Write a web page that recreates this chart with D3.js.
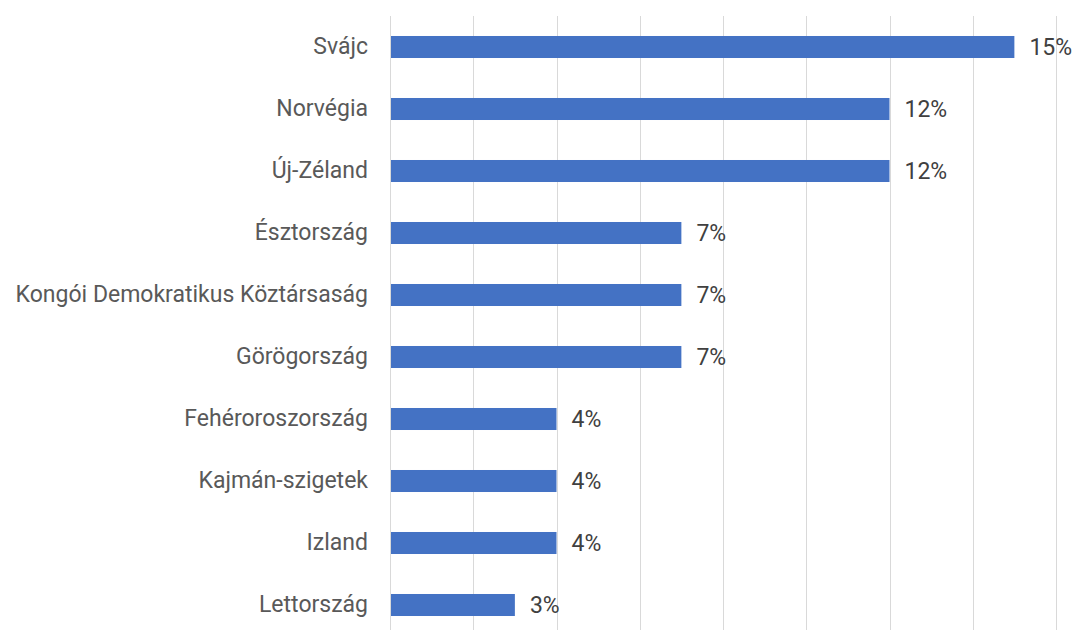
<!DOCTYPE html>
<html lang="hu">
    <head>
        <meta charset="utf-8">
        <title>Bar chart</title>
        <script src="https://d3js.org/d3.v7.min.js"></script>
        <style type="text/css">
          body { margin: 0; background: #fff; }
          svg { width: 1075px; height: 630px; display: block; }
          .cat { font-family: Roboto, sans-serif; font-size: 23px; fill: #595959; }
          .val { font-family: Roboto, sans-serif; font-size: 23px; fill: #404040; }
        </style>
    </head>
    <body>
        <svg></svg>
        <script type="text/javascript">

        // data
        const countries = ["Svájc", "Norvégia", "Új-Zéland", "Észtország",
                           "Kongói Demokratikus Köztársaság", "Görögország",
                           "Fehéroroszország", "Kajmán-szigetek", "Izland", "Lettország"];
        const shares = [15, 12, 12, 7, 7, 7, 4, 4, 4, 3];
        const gridTicks = [0, 2, 4, 6, 8, 10, 12, 14, 16];

        const svg = d3.select("svg");

        const xScale = d3.scaleLinear()
                         .domain([0, 16])
                         .range([390, 1056]);

        const yScale = d3.scaleBand()
                         .domain(countries)
                         .range([16, 636])
                         .paddingInner(0.645)
                         .paddingOuter(0.3225);

        //gridlines
        svg.append("g")
           .selectAll("line")
           .data(gridTicks)
           .join("line")
           .attr("x1", d => Math.round(xScale(d)) + 0.5)
           .attr("x2", d => Math.round(xScale(d)) + 0.5)
           .attr("y1", 16)
           .attr("y2", 630)
           .attr("stroke", "#d9d9d9")
           .attr("stroke-width", 1);

        //bars
        svg.append("g")
           .selectAll("rect")
           .data(countries)
           .join("rect")
           .attr("x", xScale(0) + 1)
           .attr("y", d => yScale(d))
           .attr("width", (d, i) => xScale(shares[i]) - xScale(0) - 1)
           .attr("height", yScale.bandwidth())
           .attr("fill", "#4472c4");

        //category labels
        svg.append("g")
           .selectAll("text")
           .data(countries)
           .join("text")
           .attr("class", "cat")
           .attr("x", xScale(0) - 22)
           .attr("y", d => yScale(d) + yScale.bandwidth() / 2)
           .attr("dy", "0.3em")
           .attr("text-anchor", "end")
           .text(d => d);

        //value labels
        svg.append("g")
           .selectAll("text")
           .data(countries)
           .join("text")
           .attr("class", "val")
           .attr("x", (d, i) => xScale(shares[i]) + 15)
           .attr("y", d => yScale(d) + yScale.bandwidth() / 2)
           .attr("dy", "0.36em")
           .text((d, i) => shares[i] + "%");

        </script>
    </body>
</html>
